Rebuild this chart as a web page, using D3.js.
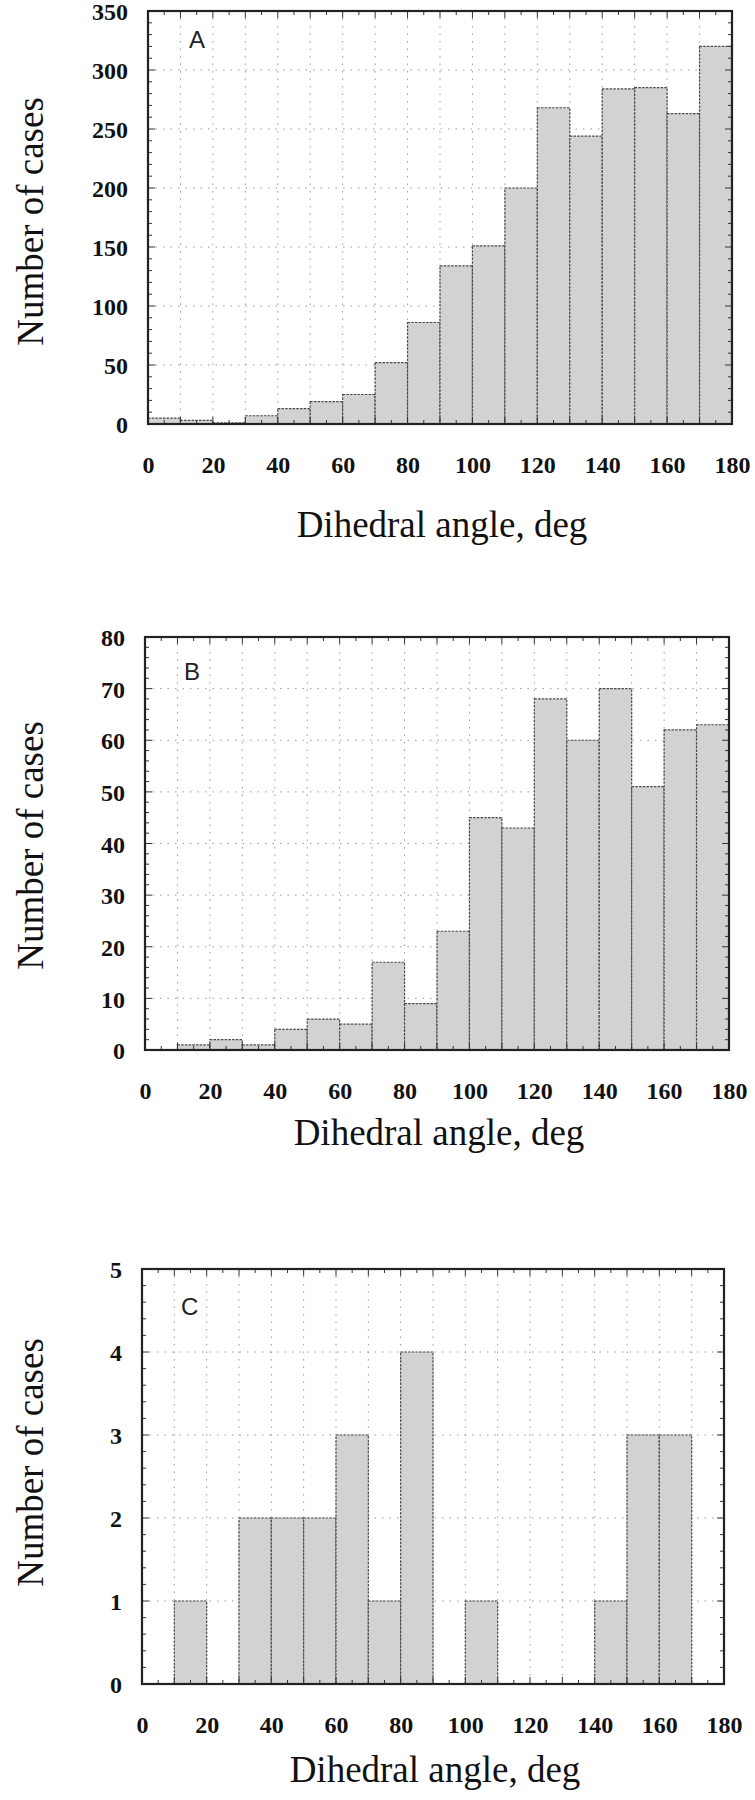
<!DOCTYPE html>
<html>
<head>
<meta charset="utf-8">
<script src="https://cdn.jsdelivr.net/npm/d3@7"></script>
<style>
  html, body { margin: 0; padding: 0; background: #fff; }
  svg { display: block; }
</style>
</head>
<body>
<svg id="chart" width="755" height="1800"></svg>
<script>
// ---------- DATA ----------
const binEdges = [0, 10, 20, 30, 40, 50, 60, 70, 80, 90, 100, 110, 120, 130, 140, 150, 160, 170, 180];
const xTickLabels = [0, 20, 40, 60, 80, 100, 120, 140, 160, 180];

const countsA = [5, 3, 1, 7, 13, 19, 25, 52, 86, 134, 151, 200, 268, 244, 284, 285, 263, 320];
const countsB = [0, 1, 2, 1, 4, 6, 5, 17, 9, 23, 45, 43, 68, 60, 70, 51, 62, 63];
const countsC = [0, 1, 0, 2, 2, 2, 3, 1, 4, 0, 1, 0, 0, 0, 1, 3, 3, 0];

const yTicksA = [0, 50, 100, 150, 200, 250, 300, 350];
const yTicksB = [0, 10, 20, 30, 40, 50, 60, 70, 80];
const yTicksC = [0, 1, 2, 3, 4, 5];

const panelLetters = ["A", "B", "C"];
const xTitle = "Dihedral angle, deg";
const yTitle = "Number of cases";

// ---------- LAYOUT ----------
const panels = [
  { counts: countsA, yTicks: yTicksA, yMax: 350, minorStep: 10,  letter: panelLetters[0],
    box: { left: 148, right: 732, top: 11,   bottom: 424 }, letterPos: [41, 37],
    xTitleDy: 113, yTitleShift: 4 },
  { counts: countsB, yTicks: yTicksB, yMax: 80,  minorStep: 2,   letter: panelLetters[1],
    box: { left: 145, right: 729, top: 637,  bottom: 1050 }, letterPos: [39, 43],
    xTitleDy: 95, yTitleShift: 2 },
  { counts: countsC, yTicks: yTicksC, yMax: 5,   minorStep: 0.2, letter: panelLetters[2],
    box: { left: 142, right: 724, top: 1269, bottom: 1684 }, letterPos: [39, 46],
    xTitleDy: 98, yTitleShift: -14 }
];

const svg = d3.select("#chart");
const serif = "'Liberation Serif', 'Times New Roman', serif";
const sans = "'Liberation Sans', Arial, sans-serif";

panels.forEach(p => {
  const b = p.box;
  const x = d3.scaleLinear().domain([0, 180]).range([b.left, b.right]);
  const y = d3.scaleLinear().domain([0, p.yMax]).range([b.bottom, b.top]);
  const g = svg.append("g");

  // grid: vertical every 10 deg, horizontal at major y ticks
  g.append("g").selectAll("line")
    .data(binEdges.slice(1, -1))
    .join("line")
    .attr("x1", d => x(d)).attr("x2", d => x(d))
    .attr("y1", b.top).attr("y2", b.bottom)
    .attr("stroke", "#9a9a9a").attr("stroke-width", 1)
    .attr("stroke-dasharray", "1.5,6");
  g.append("g").selectAll("line")
    .data(p.yTicks.slice(1, -1))
    .join("line")
    .attr("x1", b.left).attr("x2", b.right)
    .attr("y1", d => y(d)).attr("y2", d => y(d))
    .attr("stroke", "#9a9a9a").attr("stroke-width", 1)
    .attr("stroke-dasharray", "1.5,6");

  // bars
  const bins = p.counts.map((c, i) => ({ x0: binEdges[i], x1: binEdges[i + 1], v: c }));
  g.append("g").selectAll("rect")
    .data(bins.filter(d => d.v > 0))
    .join("rect")
    .attr("x", d => x(d.x0))
    .attr("width", d => x(d.x1) - x(d.x0))
    .attr("y", d => y(d.v))
    .attr("height", d => y(0) - y(d.v))
    .attr("fill", "#d2d2d2")
    .attr("stroke", "#4a4a4a")
    .attr("stroke-width", 1.2)
    .attr("stroke-dasharray", "2.5,1.2");

  // inner ticks
  const majorY = p.yTicks;
  const minorY = d3.range(0, p.yMax + 1e-9, p.minorStep).filter(v => !majorY.some(m => Math.abs(m - v) < 1e-6));
  const tg = g.append("g").attr("stroke", "#333").attr("stroke-width", 1);
  [[majorY, 7], [minorY, 4]].forEach(([vals, len]) => {
    tg.selectAll(null).data(vals).join("line")
      .attr("x1", b.left).attr("x2", b.left + len)
      .attr("y1", d => y(d)).attr("y2", d => y(d));
    tg.selectAll(null).data(vals).join("line")
      .attr("x1", b.right).attr("x2", b.right - len)
      .attr("y1", d => y(d)).attr("y2", d => y(d));
  });
  const majorX = binEdges;
  const minorX = binEdges.slice(0, -1).map(d => d + 5);
  [[majorX, 7], [minorX, 4]].forEach(([vals, len]) => {
    tg.selectAll(null).data(vals).join("line")
      .attr("x1", d => x(d)).attr("x2", d => x(d))
      .attr("y1", b.top).attr("y2", b.top + len);
    tg.selectAll(null).data(vals).join("line")
      .attr("x1", d => x(d)).attr("x2", d => x(d))
      .attr("y1", b.bottom).attr("y2", b.bottom - len);
  });

  // frame
  g.append("rect")
    .attr("x", b.left).attr("y", b.top)
    .attr("width", b.right - b.left).attr("height", b.bottom - b.top)
    .attr("fill", "none").attr("stroke", "#222").attr("stroke-width", 2.2);

  // axes labels via d3 axes (lines hidden)
  const xAxis = d3.axisBottom(x).tickValues(xTickLabels).tickSize(0).tickPadding(0).tickFormat(d3.format("d"));
  const xa = g.append("g").attr("transform", `translate(0,${b.bottom})`).call(xAxis);
  xa.select(".domain").remove();
  xa.selectAll("text")
    .attr("y", 49).attr("dy", null)
    .attr("font-family", serif).attr("font-size", 24).attr("font-weight", "bold")
    .attr("fill", "#111");

  const yAxis = d3.axisLeft(y).tickValues(p.yTicks).tickSize(0).tickPadding(0).tickFormat(d3.format("d"));
  const ya = g.append("g").attr("transform", `translate(${b.left},0)`).call(yAxis);
  ya.select(".domain").remove();
  ya.selectAll("text")
    .attr("x", -20).attr("dy", "0.36em")
    .attr("font-family", serif).attr("font-size", 24).attr("font-weight", "bold")
    .attr("fill", "#111");

  // titles
  g.append("text")
    .attr("x", (b.left + b.right) / 2 + 2)
    .attr("y", b.bottom + p.xTitleDy)
    .attr("text-anchor", "middle")
    .attr("font-family", serif).attr("font-size", 37)
    .attr("fill", "#111")
    .text(xTitle);

  g.append("text")
    .attr("transform", `translate(43,${(b.top + b.bottom) / 2 + p.yTitleShift}) rotate(-90)`)
    .attr("text-anchor", "middle")
    .attr("font-family", serif).attr("font-size", 37)
    .attr("fill", "#111")
    .text(yTitle);

  // panel letter
  g.append("text")
    .attr("x", b.left + p.letterPos[0])
    .attr("y", b.top + p.letterPos[1])
    .attr("font-family", sans).attr("font-size", 24)
    .attr("fill", "#222")
    .text(p.letter);
});
</script>
</body>
</html>
